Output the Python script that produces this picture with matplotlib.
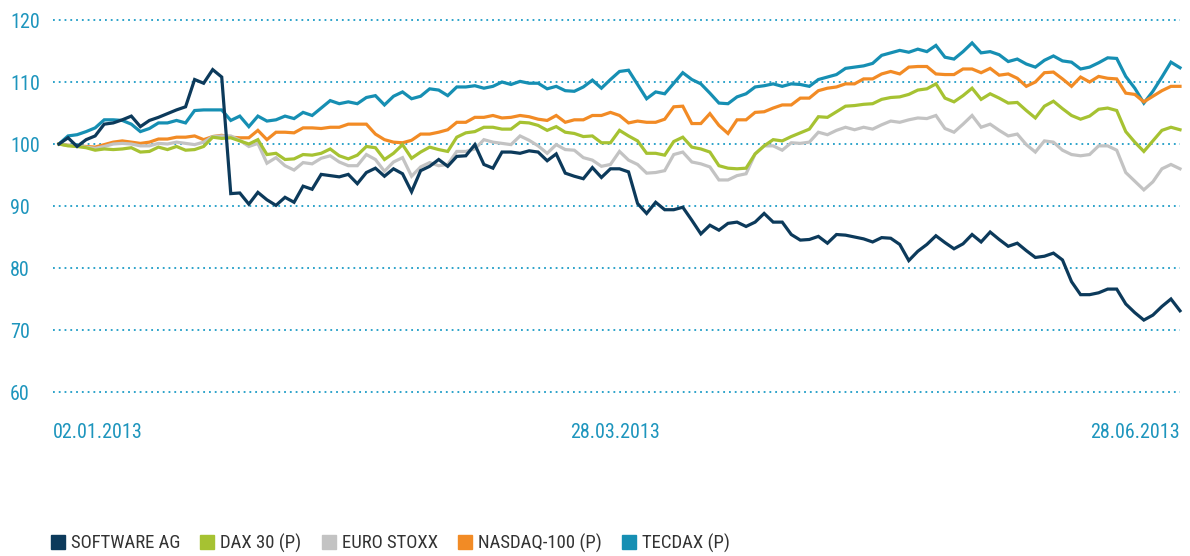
import matplotlib
matplotlib.use("Agg")
import matplotlib.pyplot as plt
from matplotlib.lines import Line2D
from matplotlib import font_manager as fm
import matplotlib.transforms as mtransforms
import numpy as np

# pick a condensed font if one is installed
_fonts = fm.fontManager.ttflist
_names = {f.name for f in _fonts}
font_family = ['Liberation Sans', 'DejaVu Sans']
font_stretch = 'normal'
for cand in ['Roboto Condensed', 'Liberation Sans Narrow', 'Open Sans Condensed', 'DejaVu Sans Condensed']:
    if cand in _names:
        font_family = [cand, 'DejaVu Sans']
        break
else:
    for f in _fonts:
        if f.name in ('Roboto', 'Open Sans', 'DejaVu Sans', 'Noto Sans') and str(f.stretch) in ('condensed', 'semi-condensed', '75', '87.5'):
            font_family = [f.name, 'DejaVu Sans']
            font_stretch = f.stretch
            break
plt.rcParams['font.family'] = font_family
plt.rcParams['font.stretch'] = font_stretch
is_condensed = font_family[0] != 'Liberation Sans'

series_names = ["SOFTWARE AG", "DAX 30 (P)", "EURO STOXX", "NASDAQ-100 (P)", "TECDAX (P)"]
colors = {"SOFTWARE AG": "#0c3a5b", "DAX 30 (P)": "#a6c232", "EURO STOXX": "#c3c3c3",
          "NASDAQ-100 (P)": "#f28b25", "TECDAX (P)": "#168fb3"}

software_ag = [100, 101, 99.6, 100.7, 101.3, 103.2, 103.4, 103.9, 104.5, 102.8, 103.8, 104.3, 104.9, 105.5, 106, 110.4, 109.8, 112, 110.8, 92, 92.1, 90.3, 92.2, 91, 90.1, 91.4, 90.6, 93.2, 92.7, 95.1,
               94.9, 94.7, 95.1, 93.6, 95.4, 96.1, 94.8, 96.0, 95.2, 92.3, 95.7, 96.4, 97.5, 96.4, 98.0, 98.1, 99.9, 96.7, 96.1, 98.7, 98.7, 98.5, 98.9, 98.7, 97.3, 98.4, 95.3, 94.8, 94.4, 96.2, 94.6,
               96.0, 96.0, 95.5, 90.4, 88.8, 90.6, 89.4, 89.4, 89.8, 87.7, 85.5, 86.9, 86.1, 87.2, 87.4, 86.7, 87.4, 88.8, 87.4, 87.4, 85.4, 84.5, 84.6, 85.1, 84.0, 85.4, 85.3, 85.0, 84.7, 84.2, 84.9,
               84.8, 83.8, 81.2, 82.7, 83.8, 85.2, 84.1, 83.1, 83.9, 85.4, 84.2, 85.8, 84.6, 83.5, 84.0, 82.8, 81.7, 81.9, 82.4, 81.3, 77.8, 75.7, 75.7, 76.0, 76.6, 76.6, 74.2, 72.8, 71.6, 72.4, 73.8, 75.0, 73.1]

tecdax = [100, 101.3, 101.5, 102, 102.6, 103.9, 103.9, 103.8, 103.2, 102, 102.5, 103.4, 103.4, 103.8, 103.4, 105.4, 105.5, 105.5, 105.5, 103.8, 104.5, 102.8, 104.5, 103.7, 103.9, 104.5, 104.1, 105.1, 104.6, 105.8,
          107.0, 106.5, 106.8, 106.5, 107.5, 107.8, 106.3, 107.7, 108.4, 107.3, 107.7, 108.9, 108.7, 107.8, 109.2, 109.2, 109.4, 109.0, 109.3, 110.0, 109.6, 110.1, 109.8, 109.8, 108.9, 109.3, 108.6, 108.5, 109.2, 110.3, 109.0,
          110.4, 111.7, 111.9, 109.6, 107.3, 108.4, 108.1, 109.8, 111.5, 110.4, 109.7, 108.2, 106.6, 106.5, 107.6, 108.1, 109.2, 109.4, 109.7, 109.3, 109.7, 109.6, 109.3, 110.4, 110.8, 111.2, 112.2, 112.4, 112.6, 113.0, 114.3,
          114.7, 115.1, 114.8, 115.3, 114.9, 115.9, 114.0, 113.7, 114.9, 116.3, 114.7, 114.9, 114.4, 113.3, 113.7, 112.9, 112.4, 113.5, 114.2, 113.4, 113.2, 112.1, 112.4, 113.1, 113.9, 113.8, 110.9, 109.0, 106.6, 108.5, 110.8, 113.2, 112.3]

nasdaq = [100, 99.8, 99.7, 99.6, 99.5, 99.9, 100.3, 100.5, 100.3, 100.1, 100.3, 100.8, 100.8, 101.1, 101.1, 101.3, 100.7, 101.2, 101.4, 101.1, 101.0, 101.0, 102.2, 100.7, 101.9, 101.9, 101.8, 102.6, 102.6, 102.5,
          102.7, 102.7, 103.2, 103.2, 103.2, 101.6, 100.7, 100.3, 100.2, 100.6, 101.6, 101.6, 101.9, 102.3, 103.5, 103.5, 104.3, 104.3, 104.6, 104.2, 104.3, 104.6, 104.4, 104.0, 103.8, 104.6, 103.5, 103.9, 103.9, 104.6, 104.6,
          105.1, 104.6, 103.4, 103.7, 103.5, 103.5, 104.0, 106.0, 106.1, 103.3, 103.3, 104.9, 103.0, 101.7, 103.9, 103.9, 105.1, 105.2, 105.8, 106.3, 106.3, 107.4, 107.4, 108.6, 109.0, 109.2, 109.7, 109.7, 110.5, 110.5, 111.3,
          111.7, 111.3, 112.4, 112.5, 112.5, 111.3, 111.2, 111.2, 112.1, 112.1, 111.5, 112.2, 111.1, 111.3, 110.6, 109.3, 110.0, 111.5, 111.6, 110.5, 109.3, 110.8, 110.0, 110.9, 110.6, 110.5, 108.2, 108.0, 106.8, 107.7, 108.6, 109.3, 109.3]

dax = [100, 99.7, 99.6, 99.4, 99.0, 99.2, 99.1, 99.2, 99.4, 98.7, 98.8, 99.5, 99.1, 99.6, 99.0, 99.1, 99.6, 101.1, 100.9, 101.0, 100.5, 100.0, 100.7, 98.3, 98.5, 97.5, 97.6, 98.3, 98.2, 98.5,
       99.2, 98.1, 97.6, 98.2, 99.6, 99.4, 97.5, 98.5, 99.9, 97.7, 98.7, 99.5, 99.1, 98.8, 101.1, 101.8, 102.0, 102.7, 102.7, 102.4, 102.4, 103.5, 103.4, 103.0, 102.2, 102.8, 101.9, 101.7, 101.2, 101.3, 100.2,
       100.2, 102.2, 101.3, 100.5, 98.5, 98.5, 98.2, 100.4, 101.1, 99.5, 99.2, 98.7, 96.5, 96.1, 96.0, 96.1, 98.4, 99.7, 100.7, 100.5, 101.2, 101.8, 102.4, 104.4, 104.3, 105.2, 106.1, 106.2, 106.4, 106.5, 107.2,
       107.5, 107.6, 108.0, 108.7, 108.9, 109.7, 107.4, 106.8, 107.8, 109.0, 107.2, 108.1, 107.4, 106.6, 106.7, 105.4, 104.2, 106.1, 106.9, 105.7, 104.6, 104.0, 104.5, 105.6, 105.8, 105.4, 102.0, 100.3, 98.8, 100.5, 102.2, 102.7, 102.3]

euro_stoxx = [100, 99.8, 99.7, 99.5, 99.3, 99.6, 100, 100.1, 100, 99.7, 99.7, 100.1, 100, 100.3, 100.1, 99.9, 100.3, 101.2, 101.3, 101.3, 100.6, 99.6, 100.1, 96.9, 97.8, 96.5, 95.8, 97.0, 96.8, 97.7,
              98.1, 97.1, 96.5, 96.5, 98.3, 97.5, 95.6, 97.1, 97.8, 94.8, 96.3, 97.0, 96.5, 96.7, 98.8, 98.8, 99.2, 100.7, 100.3, 100.1, 99.9, 101.3, 100.6, 99.7, 98.5, 99.9, 99.1, 99.0, 97.8, 97.4, 96.4,
              96.7, 98.8, 97.4, 96.7, 95.3, 95.4, 95.7, 98.3, 98.7, 97.1, 96.8, 96.3, 94.2, 94.2, 94.9, 95.2, 98.4, 99.7, 99.7, 99.0, 100.2, 100.1, 100.3, 101.9, 101.5, 102.2, 102.7, 102.3, 102.7, 102.4, 103.1,
              103.7, 103.5, 103.9, 104.2, 104.1, 104.6, 102.5, 101.9, 103.2, 104.6, 102.7, 103.2, 102.2, 101.3, 101.6, 99.9, 98.7, 100.5, 100.3, 99.0, 98.3, 98.1, 98.3, 99.7, 99.7, 99.0, 95.4, 94.0, 92.6, 93.9, 96.0, 96.7, 96.0]

data = {"SOFTWARE AG": software_ag, "DAX 30 (P)": dax, "EURO STOXX": euro_stoxx,
        "NASDAQ-100 (P)": nasdaq, "TECDAX (P)": tecdax}

x_tick_pos = [0, 61, 124]
x_tick_labels = ["02.01.2013", "28.03.2013", "28.06.2013"]
y_ticks = [60, 70, 80, 90, 100, 110, 120]

W, H = 1190, 556
fig = plt.figure(figsize=(W / 100, H / 100), dpi=100)
left_px, right_px, top_px, bottom_px = 53, 1180, 20, 392
ax = fig.add_axes([left_px / W, 1 - bottom_px / H, (right_px - left_px) / W, (bottom_px - top_px) / H])

n = len(software_ag)
x = np.arange(n)
step = (right_px - 59) / (n - 1)
x_left = -(59 - left_px) / step
ax.set_xlim(x_left, n - 1)
ax.set_ylim(60, 120)

grid_color = "#1c9cc6"
for yv in y_ticks:
    ax.plot([x_left, n - 1], [yv, yv], color=grid_color, lw=1.3,
            linestyle=(0, (1, 2.2)), zorder=1, clip_on=False)

draw_order = ["TECDAX (P)", "NASDAQ-100 (P)", "EURO STOXX", "DAX 30 (P)", "SOFTWARE AG"]
for name in draw_order:
    ax.plot(x, data[name], color=colors[name], lw=2.3, zorder=3, solid_joinstyle='miter',
            clip_on=False)

for s in ax.spines.values():
    s.set_visible(False)

tick_size = 14.5 if is_condensed else 13
leg_size = 13.5 if is_condensed else 11.5

label_color = "#1d95bd"
ax.set_yticks(y_ticks)
ax.set_yticklabels([str(v) for v in y_ticks])
ax.tick_params(axis='y', length=0, pad=31, labelsize=tick_size, labelcolor=label_color)
for t in ax.get_yticklabels():
    t.set_horizontalalignment('left')

ax.set_xticks(x_tick_pos)
ax.set_xticklabels(x_tick_labels)
ax.tick_params(axis='x', length=0, pad=22, labelsize=tick_size, labelcolor=label_color)
labs = ax.get_xticklabels()
labs[0].set_horizontalalignment('left')
labs[0].set_transform(labs[0].get_transform() +
                      mtransforms.ScaledTranslation(-6 / 100, 0, fig.dpi_scale_trans))
labs[1].set_transform(labs[1].get_transform() +
                      mtransforms.ScaledTranslation(5 / 100, 0, fig.dpi_scale_trans))
labs[2].set_horizontalalignment('right')

handles = [Line2D([0], [0], marker='s', linestyle='none', markersize=10.5,
                  markerfacecolor=colors[nm], markeredgecolor=colors[nm]) for nm in series_names]
leg = fig.legend(handles, series_names, loc='center left', bbox_to_anchor=(50 / W, 1 - 543 / H),
                 ncol=5, frameon=False, fontsize=leg_size, handlelength=0.8, handletextpad=0.3,
                 columnspacing=1.05, borderpad=0, borderaxespad=0)
for t in leg.get_texts():
    t.set_color("#333333")

fig.savefig("out.png", dpi=100)
